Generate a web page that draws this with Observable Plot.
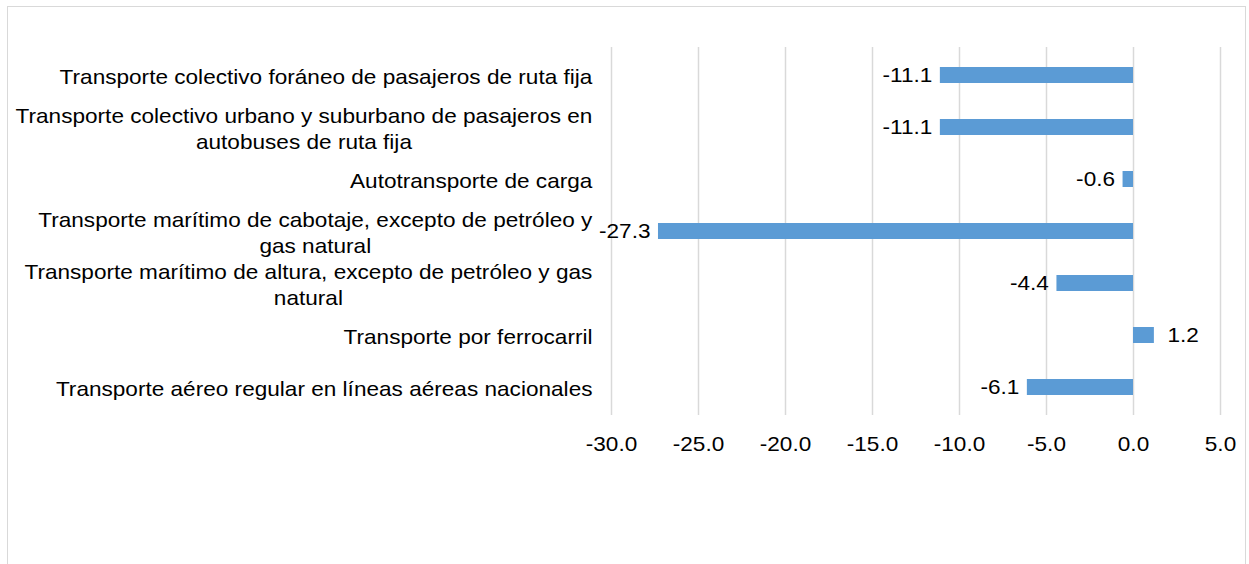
<!DOCTYPE html>
<html>
<head>
<meta charset="utf-8">
<script src="https://cdn.jsdelivr.net/npm/d3@7"></script>
<script src="https://cdn.jsdelivr.net/npm/@observablehq/plot@0.6"></script>
<style>
  html, body { margin: 0; padding: 0; background: #fff; }
  #wrap { position: relative; width: 1249px; height: 564px; overflow: hidden; }
  #frame { position: absolute; left: 7px; top: 6px; width: 1239px; height: 600px; border: 1.5px solid #d9d9d9; box-sizing: border-box; }
  #chart { position: absolute; left: 0; top: 0; }
  svg { font-family: "Liberation Sans", Arial, sans-serif; }
</style>
</head>
<body>
<div id="wrap"><div id="frame"></div><div id="chart"></div></div>
<script>
const categories = [
  "Transporte colectivo foráneo de pasajeros de ruta fija",
  "Transporte colectivo urbano y suburbano de pasajeros en autobuses de ruta fija",
  "Autotransporte de carga",
  "Transporte marítimo de cabotaje, excepto de petróleo y gas natural",
  "Transporte marítimo de altura, excepto de petróleo y gas natural",
  "Transporte por ferrocarril",
  "Transporte aéreo regular en líneas aéreas nacionales"
];
const tickLabels = [
  "Transporte colectivo foráneo de pasajeros de ruta fija",
  "Transporte colectivo urbano y suburbano de pasajeros en\nautobuses de ruta fija",
  "Autotransporte de carga",
  "Transporte marítimo de cabotaje, excepto de petróleo y\ngas natural",
  "Transporte marítimo de altura, excepto de petróleo y gas\nnatural",
  "Transporte por ferrocarril",
  "Transporte aéreo regular en líneas aéreas nacionales"
];
const values = [-11.1, -11.1, -0.6, -27.3, -4.4, 1.2, -6.1];
const xTicks = [-30, -25, -20, -15, -10, -5, 0, 5];

const data = categories.map((c, i) => ({cat: c, value: values[i]}));
const labelOf = new Map(categories.map((c, i) => [c, tickLabels[i]]));

const plot = Plot.plot({
  width: 1249,
  height: 564,
  marginLeft: 611,
  marginRight: 29,
  marginTop: 47,
  marginBottom: 149,
  style: {fontSize: "20px", fontFamily: "'Liberation Sans', Arial, sans-serif", color: "#000", background: "transparent"},
  x: {domain: [-30, 5]},
  y: {domain: categories, paddingInner: 0.7, paddingOuter: 0.35},
  marks: [
    Plot.gridX(xTicks, {stroke: "#d9d9d9", strokeOpacity: 1, strokeWidth: 1.5}),
    Plot.barX(data, {x: "value", y: "cat", fill: "#5b9bd5"}),
    Plot.text(data.filter(d => d.value < 0), {x: "value", y: "cat", text: d => d.value.toFixed(1), textAnchor: "end", dx: -8, fill: "#000", fontSize: 20}),
    Plot.text(data.filter(d => d.value >= 0), {x: "value", y: "cat", text: d => d.value.toFixed(1), textAnchor: "start", dx: 13, fill: "#000", fontSize: 20}),
    Plot.axisX({ticks: xTicks, tickFormat: d => d.toFixed(1), tickSize: 0, tickPadding: 21, fontSize: 20, label: null}),
    Plot.axisY({tickFormat: d => labelOf.get(d), tickSize: 0, tickPadding: 19, fontSize: 20, label: null, lineHeight: 1.3, textAnchor: "end"})
  ]
});
document.getElementById("chart").appendChild(plot);

// Center the lines of wrapped labels within their right-aligned block
const yLabelTexts = new Set(plot.querySelectorAll('g[aria-label="y-axis tick label"] text'));
yLabelTexts.forEach(t => {
  const spans = t.querySelectorAll("tspan");
  if (spans.length > 1) {
    let maxW = 0;
    spans.forEach(s => { maxW = Math.max(maxW, s.getComputedTextLength()); });
    t.setAttribute("text-anchor", "middle");
    spans.forEach(s => s.setAttribute("x", -maxW / 2));
  }
});

// The reference typeface is set slightly wide: stretch glyphs horizontally around their anchor
const stretch = 1.13;
plot.querySelectorAll("text").forEach(t => {
  const b = t.getBBox();
  let ax;
  if (yLabelTexts.has(t)) ax = b.x + b.width;
  else {
    const a = getComputedStyle(t).textAnchor;
    ax = a === "end" ? b.x + b.width : a === "middle" ? b.x + b.width / 2 : b.x;
  }
  const tr = t.getAttribute("transform") || "";
  t.setAttribute("transform", `${tr} translate(${ax},0) scale(${stretch},1) translate(${-ax},0)`);
});
</script>
</body>
</html>
